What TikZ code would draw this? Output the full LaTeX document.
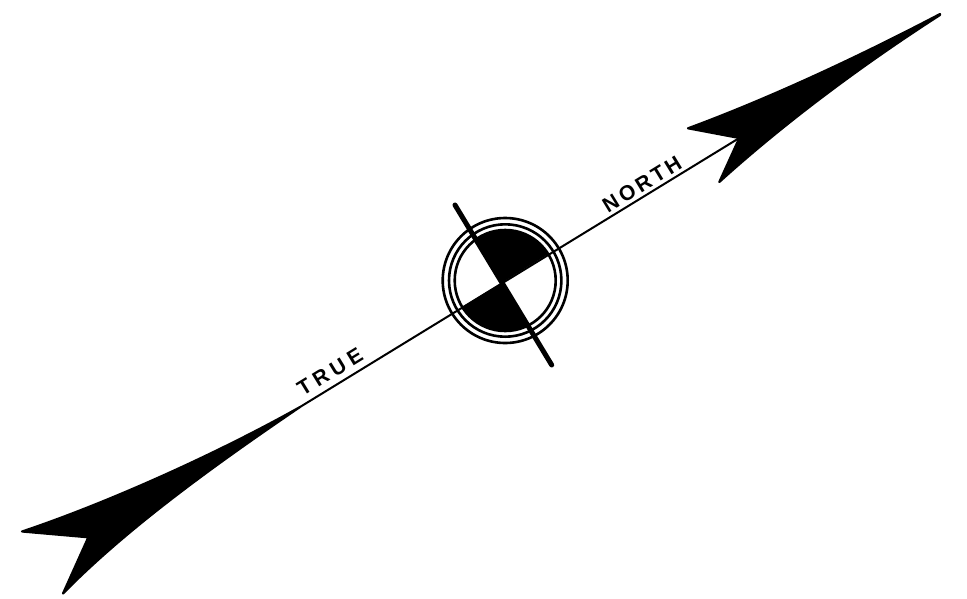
\documentclass[tikz,border=0pt]{standalone}
\usepackage{fontspec}
\newfontfamily\labA[LetterSpace=24]{Liberation Sans}
\newfontfamily\labB[LetterSpace=16]{Liberation Sans}
\begin{document}
\begin{tikzpicture}[x=1pt,y=-1pt,
  ring/.style={draw=black,line width=2.6pt,fill=none},
  thinline/.style={draw=black,line width=2pt},
  thickline/.style={draw=black,line width=5pt,line cap=round},
  solid black/.style={fill=black,draw=black,line width=2.2pt,line join=round},
  lbl/.style={rotate=31.5,inner sep=0pt}]
\useasboundingbox[fill=white] (0,0) rectangle (967,598);
\coordinate (C) at (501.7,282.7);
\coordinate (R) at (505.2,280.5);
\coordinate (NE) at (739.3,138);
\coordinate (SW) at (300,407);
\coordinate (TL) at (455,205);
\coordinate (BR) at (551.7,365);
% quadrants
\begin{scope}
\clip (R) circle (50.5);
\fill[black] (C) -- (439,179) -- (620,210) -- cycle;
\fill[black] (C) -- (385,354) -- (564,386) -- cycle;
\end{scope}
\draw[ring] (R) circle (62.5);
\draw[ring] (R) circle (56.2);
\draw[ring] (R) circle (50.5);
\draw[thinline] (SW) -- (NE);
\draw[thickline] (TL) -- (BR);
% NE arrow
\filldraw[solid black] (940,14)
  .. controls (860,56) and (770,98) .. (688,128.3)
  -- (NE) -- (719.3,182)
  .. controls (790,118) and (870,60) .. (940,15) -- cycle;
% SW arrow
\filldraw[solid black] (SW)
  .. controls (220,452) and (110,502) .. (22,531.5)
  -- (88.3,537.3) -- (63,593.5)
  .. controls (130,525) and (225,458) .. (SW) -- cycle;
\node[lbl,font=\labA\fontsize{21}{22}\selectfont\bfseries] (true) at (330,372) {TRUE};
\node[lbl,font=\labB\fontsize{21}{22}\selectfont\bfseries] (north) at (642,184) {NORTH};
\end{tikzpicture}
\end{document}
